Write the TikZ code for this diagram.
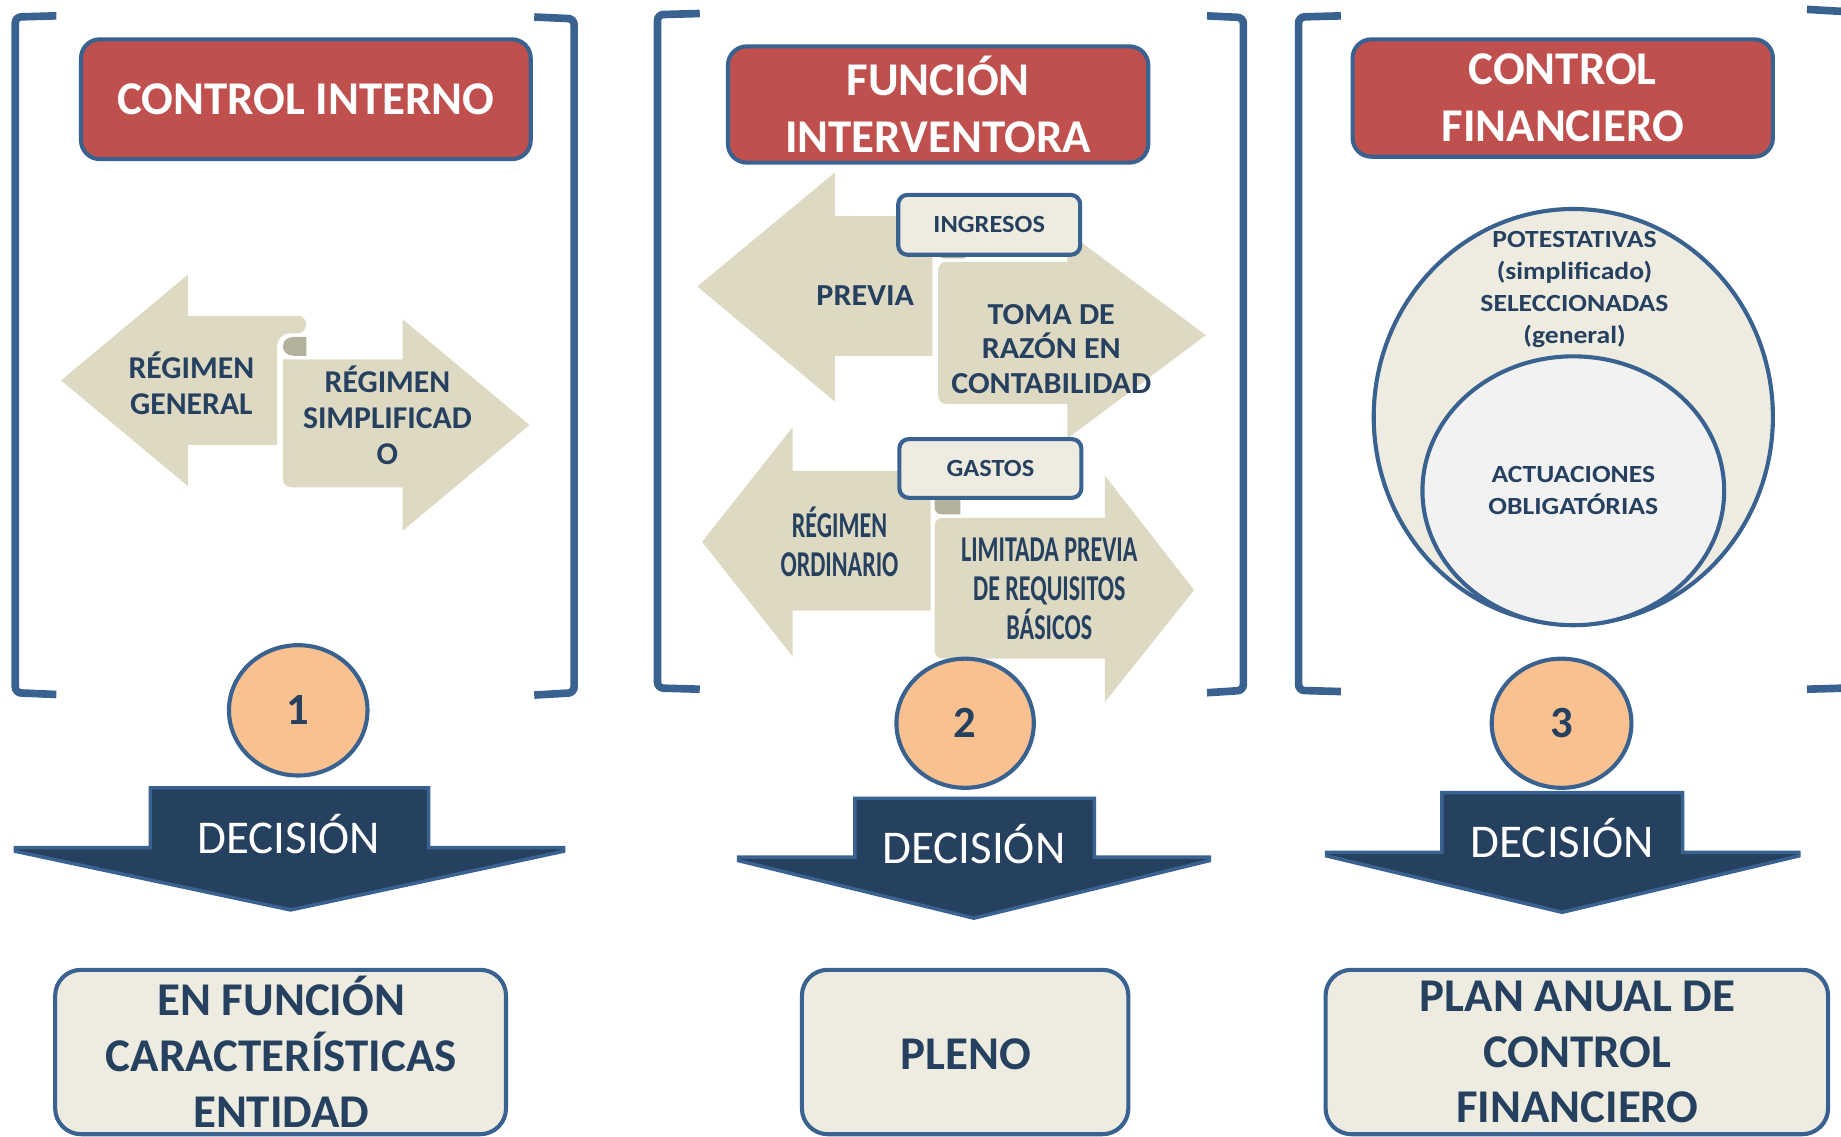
\documentclass[tikz,border=0pt]{standalone}
\usepackage{fontspec}
\setmainfont{Carlito}
\newfontfamily\condfont[FakeStretch=0.66]{Carlito}
\newfontfamily\widefont[FakeStretch=1.12]{Carlito}
\newfontfamily\tagfont[FakeStretch=1.07]{Carlito}
\newfontfamily\midfont[FakeStretch=1.05]{Carlito}
\usetikzlibrary{shapes.geometric}
\definecolor{bblue}{HTML}{3A6290}
\definecolor{tred}{HTML}{C0504D}
\definecolor{arrowtan}{HTML}{DDD9C3}
\definecolor{dnavy}{HTML}{26405F}
\definecolor{peach}{HTML}{F9C090}
\definecolor{cream}{HTML}{EEECE1}
\definecolor{lgray}{HTML}{F2F2F2}
\definecolor{curlgray}{HTML}{B3B09C}
\tikzset{
  bracket/.style={draw=bblue, line width=6.5pt, rounded corners=5pt},
  titlebox/.style={draw=bblue, line width=3.5pt, fill=tred, rounded corners=16pt, text=white,
    font=\bfseries\fontsize{40}{48.5}\selectfont, align=center, inner sep=0pt},
  tagbox/.style={draw=bblue, line width=3.5pt, fill=cream, rounded corners=8pt, text=dnavy,
    font=\tagfont\bfseries\fontsize{21}{24}\selectfont, inner sep=0pt},
  arrowfill/.style={fill=arrowtan},
  curlfill/.style={fill=curlgray},
  lbl/.style={text=dnavy, align=center, inner sep=0pt},
  numcirc/.style={ellipse, draw=bblue, line width=3.5pt, fill=peach, text=dnavy,
    font=\bfseries\fontsize{38}{40}\selectfont, inner sep=0pt},
  decarrow/.style={draw=bblue, line width=3pt, fill=dnavy, line join=miter},
  dectext/.style={text=white, font=\fontsize{40}{44}\selectfont, inner sep=0pt},
  resultbox/.style={draw=bblue, line width=3.5pt, fill=cream, rounded corners=22pt, inner sep=0pt},
  resulttext/.style={text=dnavy, font=\bfseries\fontsize{40}{47.5}\selectfont, align=center, inner sep=0pt},
  ringbox/.style={ellipse, draw=bblue, line width=3.5pt, inner sep=0pt},
}
\begin{document}
\begin{tikzpicture}[x=1pt,y=-1pt]
\useasboundingbox[fill=white] (0,0) rectangle (1568,968);

% ---------- brackets ----------
\draw[bracket] (48,13.5) -- (13,14.5) -- (13,590) -- (48,591.5);
\draw[bracket] (455,14.5) -- (489,16) -- (489,590) -- (455,592);
\draw[bracket] (596,11.5) -- (560,12.5) -- (560,586) -- (596,587);
\draw[bracket] (1028,13.5) -- (1059,15) -- (1059,588) -- (1028,590);
\draw[bracket] (1142,13.5) -- (1106,14.5) -- (1106,588) -- (1142,589);
\draw[bracket] (1539,8) -- (1574,10) -- (1574,586) -- (1539,587);

% ---------- panel 1 arrows ----------
\fill[arrowfill] (52,324) -- (160,234) -- (160,269) -- (254,269)
  .. controls (263,269) and (263,284) .. (253,284) -- (247,284)
  .. controls (240,284) and (236,289) .. (236,296) -- (236,379)
  -- (160,379) -- (160,414) -- cycle;
\fill[curlfill] (261,287) -- (261,303) -- (250,303)
  .. controls (244,303) and (241,299) .. (241,295)
  .. controls (241,290) and (245,287) .. (250,287) -- cycle;
\fill[arrowfill] (241,306) -- (343,306) -- (343,272) -- (451,362) -- (343,452)
  -- (343,415) -- (248,415) .. controls (244,415) and (241,412) .. (241,408) -- cycle;

% ---------- panel 2 arrows ----------
\fill[arrowfill] (594,244) -- (711,147) -- (711,184) -- (794,184) -- (794,303)
  -- (711,303) -- (711,342) -- cycle;
\fill[curlfill] (822,216) -- (822,220) -- (805,220)
  .. controls (802,220) and (800,219) .. (800,217) -- (800,216) -- cycle;
\fill[arrowfill] (799,230) .. controls (799,226) and (802,223) .. (806,223) -- (909,223)
  -- (909,197.5) -- (1027,285.5) -- (909,373.5) -- (909,344) -- (806,344)
  .. controls (802,344) and (799,341) .. (799,337) -- cycle;
\fill[arrowfill] (598,461.5) -- (675,364) -- (675,401) -- (792.6,401) -- (792.6,520)
  -- (675,520) -- (675,559) -- cycle;
\fill[curlfill] (818,426) -- (818,438) -- (802,438)
  .. controls (798,438) and (796,435) .. (796,432) -- (796,426) -- cycle;
\fill[arrowfill] (796,448) .. controls (796,444) and (799,441) .. (803,441) -- (941,441)
  -- (941,405) -- (1017,502.6) -- (941,598) -- (941,561) -- (803,561)
  .. controls (799,561) and (796,558) .. (796,554) -- cycle;

% ---------- title boxes ----------
\node[titlebox, minimum width=383pt, minimum height=102pt] (t1) at (260.5,84.5) {CONTROL INTERNO};
\node[titlebox, minimum width=358pt, minimum height=99pt] (t2) at (799,89) {FUNCIÓN\\INTERVENTORA};
\node[titlebox, minimum width=358pt, minimum height=100pt] (t3) at (1331,83.5) {CONTROL\\FINANCIERO};

% ---------- tags ----------
\node[tagbox, minimum width=155pt, minimum height=51pt] (ing) at (842.5,191.5) {INGRESOS};
\node[tagbox, minimum width=155pt, minimum height=50pt] (gas) at (843.5,399) {GASTOS};

% ---------- arrow labels ----------
\node[lbl, font=\bfseries\fontsize{27}{31}\selectfont] (rg) at (163,326.5) {RÉGIMEN\\GENERAL};
\node[lbl, font=\bfseries\fontsize{27}{30.5}\selectfont] (rs) at (330,353.5) {RÉGIMEN\\SIMPLIFICAD\\O};
\node[lbl, font=\midfont\bfseries\fontsize{26}{29}\selectfont] (pv) at (737,252) {PREVIA};
\node[lbl, font=\midfont\bfseries\fontsize{26}{29.3}\selectfont] (tr) at (895.4,297) {TOMA DE\\RAZÓN EN\\CONTABILIDAD};
\node[lbl, font=\condfont\bfseries\fontsize{31}{33}\selectfont] (ro) at (715,461.5) {RÉGIMEN\\ORDINARIO};
\node[lbl, font=\condfont\bfseries\fontsize{31}{33.5}\selectfont] (lp) at (893.7,501.5) {LIMITADA PREVIA\\DE REQUISITOS\\BÁSICOS};

% ---------- panel 3 rings ----------
\node[ringbox, fill=cream, minimum width=340pt, minimum height=354pt] (outer) at (1340,355) {};
\node[ringbox, fill=lgray, minimum width=257pt, minimum height=229pt, text=dnavy,
  font=\widefont\bfseries\fontsize{21}{27.4}\selectfont, align=center] (inner) at (1340,418) {ACTUACIONES\\OBLIGATÓRIAS};
\node[lbl, font=\widefont\bfseries\fontsize{21}{27.4}\selectfont] (pot) at (1341,246.4)
  {POTESTATIVAS\\(simplificado)\\SELECCIONADAS\\(general)};

% ---------- numbered circles ----------
\node[numcirc, minimum width=118pt, minimum height=111pt] (c1) at (254,605) {\raisebox{-3pt}{1}};
\node[numcirc, minimum width=117pt, minimum height=110pt] (c2) at (822,616) {\raisebox{-3pt}{2}};
\node[numcirc, minimum width=119pt, minimum height=110pt] (c3) at (1330,616) {\raisebox{-3pt}{3}};

% ---------- decision arrows ----------
\draw[decarrow] (128,671) -- (365,671) -- (365,722) -- (480,722) -- (480,725)
  -- (247.5,775) -- (13,725) -- (13,722) -- (128,722) -- cycle;
\draw[decarrow] (728,680) -- (932,680) -- (932,730) -- (1030,730) -- (1030,733)
  -- (829.5,782) -- (629,733) -- (629,730) -- (728,730) -- cycle;
\draw[decarrow] (1228,675) -- (1433,675) -- (1433,726) -- (1532,726) -- (1532,729)
  -- (1330.5,777) -- (1130,729) -- (1130,726) -- (1228,726) -- cycle;
\node[dectext] (d1) at (246,710.5) {DECISIÓN};
\node[dectext] (d2) at (829.5,718.5) {DECISIÓN};
\node[dectext] (d3) at (1330.5,714) {DECISIÓN};

% ---------- result boxes ----------
\node[resultbox, minimum width=384pt, minimum height=140pt] (r1) at (239,896) {};
\node[resultbox, minimum width=278pt, minimum height=140pt] (r2) at (822,896) {};
\node[resultbox, minimum width=428pt, minimum height=140pt] (r3) at (1343,896) {};
\node[resulttext] (r1t) at (239.5,896) {EN FUNCIÓN\\CARACTERÍSTICAS\\ENTIDAD};
\node[resulttext] (r2t) at (822.5,898) {PLENO};
\node[resulttext] (r3t) at (1343.5,896) {PLAN ANUAL DE\\CONTROL\\FINANCIERO};
\end{tikzpicture}
\end{document}
